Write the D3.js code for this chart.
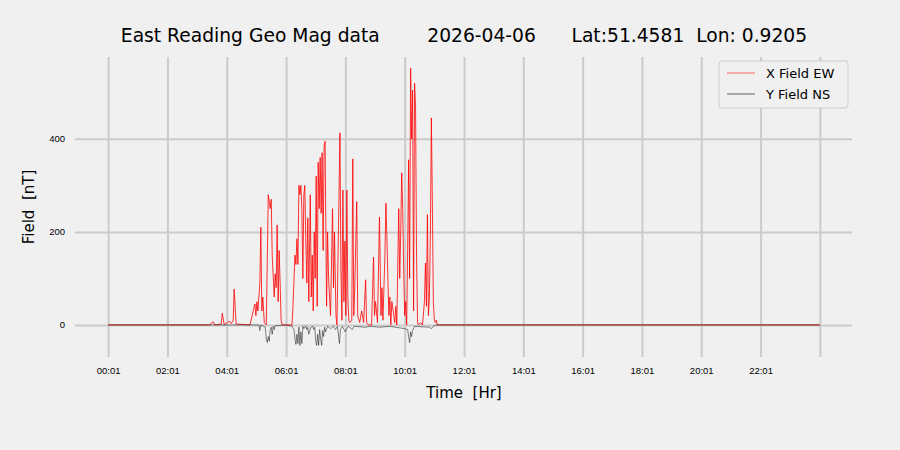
<!DOCTYPE html>
<html><head><meta charset="utf-8">
<script src="https://cdn.jsdelivr.net/npm/d3@7"></script>
<style>body{margin:0;background:#f0f0f0}svg{font-family:"DejaVu Sans",sans-serif}</style>
</head><body><svg id="chart" width="900" height="450"></svg>
<script>
// minutes after 00:01, field in nT
var xField = [[0,0],[206,0],[212,7],[216,0],[229,2],[231,25],[235,0],[245,8],[249,3],[253,10],[255,77],[259,2],[287,0],[297,45],[299,20],[301,50],[303,30],[307,90],[309,210],[311,30],[313,60],[316,5],[320,0],[324,280],[328,250],[330,270],[332,150],[336,60],[338,110],[340,80],[342,215],[344,50],[346,160],[348,90],[350,10],[352,0],[372,0],[374,40],[378,150],[380,130],[382,185],[384,130],[386,300],[388,280],[390,300],[392,250],[394,100],[396,280],[398,300],[400,180],[402,90],[404,230],[406,50],[409,280],[411,60],[413,150],[415,30],[417,200],[419,100],[421,320],[423,40],[425,350],[427,250],[429,360],[431,240],[433,370],[435,160],[437,385],[439,395],[440,270],[442,40],[444,200],[446,100],[450,20],[454,250],[456,80],[458,200],[461,20],[463,0],[465,140],[467,270],[469,413],[471,120],[473,10],[475,290],[477,50],[479,180],[481,20],[483,290],[485,60],[487,10],[489,5],[493,10],[495,357],[497,20],[499,80],[503,265],[505,20],[509,5],[513,30],[517,5],[521,97],[523,5],[527,0],[533,0],[535,70],[537,146],[539,20],[541,50],[545,5],[549,232],[552,20],[554,80],[556,10],[560,150],[562,262],[564,190],[566,100],[568,20],[570,60],[572,0],[574,50],[578,20],[580,5],[582,40],[584,0],[588,250],[590,100],[592,200],[594,327],[596,250],[598,120],[600,20],[602,50],[604,0],[606,160],[608,355],[610,100],[612,552],[614,400],[616,505],[618,30],[620,520],[622,470],[624,150],[626,5],[628,0],[632,5],[636,0],[640,50],[642,133],[644,40],[646,237],[648,20],[650,60],[652,200],[654,445],[656,260],[658,50],[660,10],[662,5],[664,10],[666,0],[1440,0]];
var yField = [[0,0],[305,0],[307,-12],[309,0],[318,-5],[320,-30],[322,-38],[324,-25],[326,-35],[328,-10],[330,-5],[332,-20],[334,-3],[336,-10],[338,-2],[360,0],[372,-3],[376,-10],[378,-30],[380,-42],[382,-20],[384,-40],[386,-5],[388,-44],[390,-15],[392,-40],[394,-3],[396,-8],[400,-2],[402,-10],[404,-5],[406,-20],[410,-5],[414,-3],[416,-10],[418,-5],[420,-35],[422,-44],[424,-20],[426,-44],[428,-10],[430,-30],[432,-44],[434,-12],[436,-25],[438,-5],[440,-15],[444,-3],[450,-8],[456,-3],[460,-10],[464,-3],[468,-40],[470,-10],[474,-3],[480,-15],[482,-10],[486,-3],[494,-10],[498,-3],[520,-5],[530,-3],[550,-5],[570,-3],[600,-8],[606,-10],[608,-25],[610,-38],[612,-15],[614,-25],[616,-12],[620,-3],[650,-5],[654,-8],[658,-3],[664,0],[1440,0]];
var xTicks = [0,120,240,360,480,600,720,840,960,1080,1200,1320,1440];
var xTickLabels = ["00:01","02:01","04:01","06:01","08:01","10:01","12:01","14:01","16:01","18:01","20:01","22:01",""];
var yTicks = [0,200,400];
var title = "East Reading Geo Mag data        2026-04-06      Lat:51.4581  Lon: 0.9205";

var svg = d3.select('#chart');
var x = d3.scaleLinear().domain([-67,1505]).range([75,852]);
var y = d3.scaleLinear().domain([-69,576]).range([357,57]);

svg.append('g').attr('transform','translate(0,357)')
  .call(d3.axisBottom(x).tickValues(xTicks).tickFormat(function(d,i){return xTickLabels[i]}).tickSize(-300).tickPadding(10))
  .call(function(g){g.select('.domain').remove();g.selectAll('line').attr('stroke','#cbcbcb').attr('stroke-width',2);g.selectAll('text').attr('font-size',9.5).attr('fill','#000')});
svg.append('g').attr('transform','translate(75,0)')
  .call(d3.axisLeft(y).tickValues(yTicks).tickSize(-777).tickPadding(10))
  .call(function(g){g.select('.domain').remove();g.selectAll('line').attr('stroke','#cbcbcb').attr('stroke-width',2);g.selectAll('text').attr('font-size',9.5).attr('fill','#000')});

var line = d3.line().x(function(d){return x(d[0])}).y(function(d){return y(d[1])});
svg.append('path').datum(xField).attr('d',line).attr('fill','none').attr('stroke','red').attr('stroke-width',0.8);
svg.append('path').datum(yField).attr('d',line).attr('fill','none').attr('stroke','black').attr('stroke-width',0.6).attr('stroke-opacity',0.8);

svg.append('text').attr('x',464).attr('y',42).attr('text-anchor','middle').attr('font-size',18.7).style('white-space','pre').text(title);
svg.append('text').attr('x',464).attr('y',398).attr('text-anchor','middle').attr('font-size',15).style('white-space','pre').text('Time  [Hr]');
svg.append('text').attr('transform','translate(34,207) rotate(-90)').attr('text-anchor','middle').attr('font-size',15).style('white-space','pre').text('Field  [nT]');

var lg = svg.append('g').attr('transform','translate(719,61)');
lg.append('rect').attr('width',129).attr('height',47).attr('rx',3).attr('fill','#f0f0f0').attr('stroke','#cccccc');
[["X Field EW","red"],["Y Field NS","black"]].forEach(function(s,i){
  lg.append('line').attr('x1',8).attr('x2',36).attr('y1',12+i*21).attr('y2',12+i*21).attr('stroke',s[1]).attr('stroke-width',0.6);
  lg.append('text').attr('x',47).attr('y',17+i*21).attr('font-size',13).text(s[0]);
});
</script></body></html>
